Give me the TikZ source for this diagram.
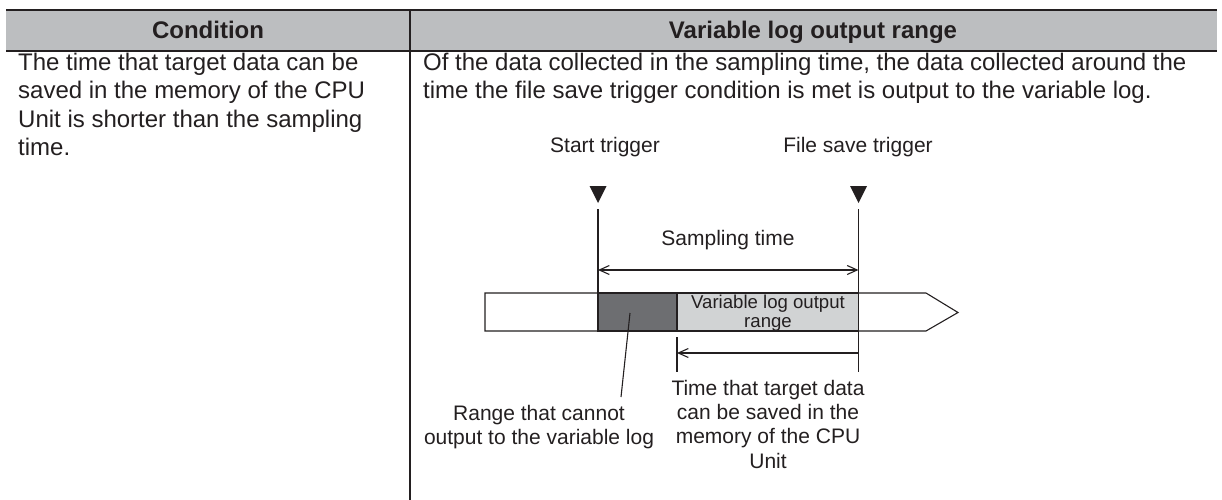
\documentclass[tikz,border=0pt]{standalone}
\usepackage{fontspec}
\setmainfont{Liberation Sans}
\usetikzlibrary{arrows.meta, positioning, calc}
\definecolor{cInk}{RGB}{35,31,32}
\definecolor{cHead}{RGB}{188,190,192}
\definecolor{cDark}{RGB}{109,110,113}
\definecolor{cLight}{RGB}{209,211,212}
\tikzset{
	headtxt/.style={font=\bfseries\fontsize{24}{28}\selectfont, text=cInk, anchor=base, inner sep=0pt},
	celltxt/.style={font=\fontsize{24}{28.3}\selectfont, text=cInk, align=left, anchor=base west, inner sep=0pt},
	lbl/.style={font=\fontsize{21}{24.4}\selectfont, text=cInk, align=center, anchor=base, inner sep=0pt},
	seglbl/.style={font=\fontsize{18.6}{19}\selectfont, text=cInk, align=center, anchor=base, inner sep=0pt},
	rule/.style={draw=cInk, line width=2.6pt},
	thin/.style={draw=cInk, line width=1.1pt},
	barb/.tip={Straight Barb[length=10pt, width=9pt, line width=1.1pt]},
	dimline/.style={thin, barb-barb},
	seg/.style={rectangle, draw=cInk, line width=1.1pt, minimum height=38pt, inner sep=0pt, outer sep=0pt},
	trig/.style={fill=cInk},
}
\begin{document}
\begin{tikzpicture}[x=1pt, y=-1pt]
	\useasboundingbox (0,0) rectangle (1222,500);
	% table frame
	\fill[cHead] (6,10) rectangle (1217,51);
	\draw[rule] (6,10) -- (1217,10);
	\draw[rule] (6,51) -- (1217,51);
	\draw[thin] (410,10) -- (410,500);
	\node[headtxt] (hCond) at (208,39) {Condition};
	\node[headtxt] (hRange) at (813,39) {Variable log output range};
	% cells (base = last line)
	\node[celltxt] (cond) at (18,155.4) {The time that target data can be\\saved in the memory of the CPU\\Unit is shorter than the sampling\\time.};
	\node[celltxt] (desc) at (423,98.8) {Of the data collected in the sampling time, the data collected around the\\time the file save trigger condition is met is output to the variable log.};
	% triggers
	\node[lbl] (stLbl) at (605,152) {Start trigger};
	\node[lbl] (fsLbl) at (858,152) {File save trigger};
	\foreach \x in {598,858.5} \fill[trig] (\x-8.5,186) -- (\x+8.5,186) -- (\x,203) -- cycle;
	\coordinate (stTop) at (598,209);
	\coordinate (fsTop) at (858.5,209);
	\coordinate (fsBot) at (858.5,372);
	% time bar
	\draw[thin, fill=white] (485,293) -- (926,293) -- (958,312.5) -- (926,331) -- (485,331) -- cycle;
	\node[seg, fill=cDark, minimum width=79pt] (noLog) at (637.5,312) {};
	\node[seg, fill=cLight, minimum width=181.5pt] (logRange) at (767.75,312) {};
	\node[seglbl] (rangeLbl) at (768,327) {Variable log output\\range};
	\draw[thin] (stTop) -- (noLog.north west);
	\draw[thin] (fsTop) -- (fsBot);
	% sampling time
	\coordinate (sampL) at (598,270);
	\coordinate (sampR) at (858.5,270);
	\draw[dimline] (sampL) -- (sampR);
	\node[lbl] (sampLbl) at (728,245) {Sampling time};
	% saved time
	\coordinate (keepTop) at (677,337);
	\coordinate (keepBot) at (677,372);
	\coordinate (keepL) at (677,353);
	\coordinate (keepR) at (858.5,353);
	\draw[thin] (keepTop) -- (keepBot);
	\draw[thin, barb-] (keepL) -- (keepR);
	\node[lbl] (keepLbl) at (768,468.2) {Time that target data\\can be saved in the\\memory of the CPU\\Unit};
	% leader
	\coordinate (leadTop) at (630,313);
	\coordinate (leadBot) at (621,397);
	\draw[thin] (leadTop) -- (leadBot);
	\node[lbl] (noLbl) at (539,444.4) {Range that cannot\\output to the variable log};
\end{tikzpicture}
\end{document}
